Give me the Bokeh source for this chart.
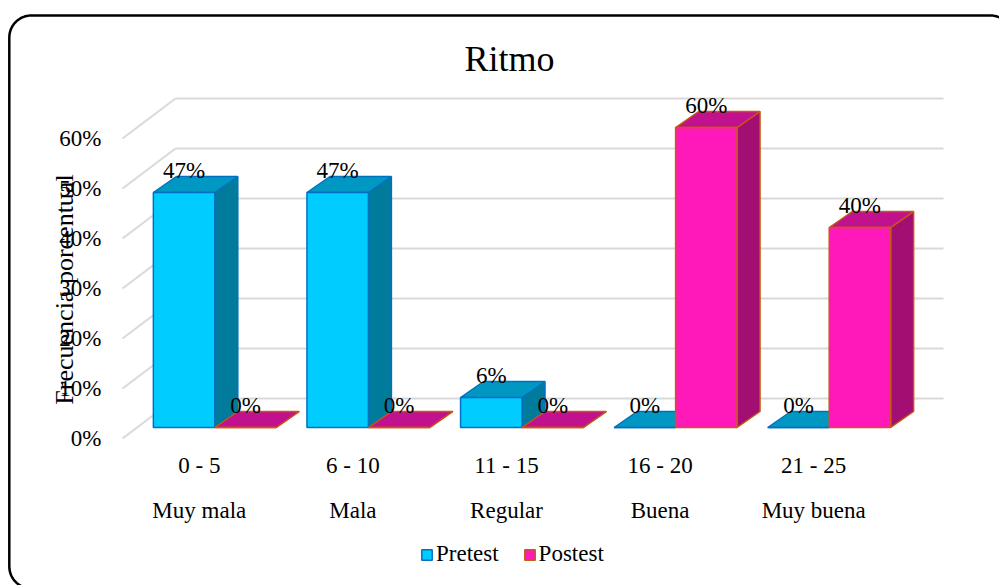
import numpy as np
from bokeh.plotting import figure
from bokeh.models import (Range1d, LinearAxis, FixedTicker, PrintfTickFormatter,
                          Label, Legend, LegendItem)
from bokeh.embed import file_html
from bokeh.resources import INLINE
from bokeh.core.properties import value

# ---------------- data ----------------
chart_title = "Ritmo"
y_title = "Frecuencia porcentual"
ranges = ["0 - 5", "6 - 10", "11 - 15", "16 - 20", "21 - 25"]
levels = ["Muy mala", "Mala", "Regular", "Buena", "Muy buena"]
pretest = [47, 47, 6, 0, 0]
postest = [0, 0, 0, 60, 40]
y_ticks = [0, 10, 20, 30, 40, 50, 60]
series_names = ["Pretest", "Postest"]

# ---------------- geometry / style ----------------
W, H = 999, 585
X0_PX, UX = 122.0, 153.6     # px of category origin, px per category
Y0_PX, UY = 438.0, 5.0       # px of 0 % (front plane), px per percent
FONT = "Liberation Serif"
FS = "23px"

def X(px):
    return (px - X0_PX) / UX

def Y(py):
    return (Y0_PX - py) / UY

FLOOR_DX, FLOOR_DY = 53 / UX, 40 / UY      # full depth of the floor
BAR_OX, BAR_OY = 15.5 / UX, 11 / UY        # bar front-face offset from front plane
BAR_DX, BAR_DY = 23 / UX, 16 / UY          # bar depth
BAR_W = 0.4
LABEL_LIFT = 6 / UY

colors = {
    "Pretest": dict(front="#00CCFF", top="#0098C2", side="#007B9C", line="#0070C0"),
    "Postest": dict(front="#FF19BA", top="#C2118E", side="#A30E72", line="#C55A11"),
}

p = figure(width=W, height=H, output_backend="svg", toolbar_location=None,
           x_range=Range1d(X(0), X(W)), y_range=Range1d(Y(H), Y(0)),
           x_axis_location=None, y_axis_location=None,
           min_border=0, outline_line_color=None)
p.grid.grid_line_color = None
p.background_fill_color = "white"
p.border_fill_color = "white"

# ---------------- chart border (rounded) ----------------
def rounded_rect(l, t, r, b, rad, n=16):
    pts = []
    corners = [(r - rad, t + rad, -90, 0), (r - rad, b - rad, 0, 90),
               (l + rad, b - rad, 90, 180), (l + rad, t + rad, 180, 270)]
    for cx, cy, a0, a1 in corners:
        for a in np.linspace(np.radians(a0), np.radians(a1), n):
            pts.append((cx + rad * np.cos(a), cy + rad * np.sin(a)))
    pts.append(pts[0])
    return [X(q[0]) for q in pts], [Y(q[1]) for q in pts]

bx, by = rounded_rect(8.8, 15, 1012, 588, 22)
p.line(bx, by, line_color="black", line_width=2.5)

# ---------------- walls / gridlines ----------------
n_cat = len(ranges)
back_xs = [[FLOOR_DX, n_cat + FLOOR_DX] for t in y_ticks]
back_ys = [[t + FLOOR_DY, t + FLOOR_DY] for t in y_ticks]
side_xs = [[0, FLOOR_DX] for t in y_ticks]
side_ys = [[t, t + FLOOR_DY] for t in y_ticks]
p.multi_line(back_xs + side_xs, back_ys + side_ys, line_color="#D9D9D9", line_width=2)

# ---------------- 3D bars ----------------
front_renderers = {}
label_x, label_y, label_t = [], [], []
for k, (name, vals) in enumerate(zip(series_names, [pretest, postest])):
    c = colors[name]
    left = [i + 0.1 + k * BAR_W + BAR_OX for i in range(n_cat)]
    right = [l + BAR_W for l in left]
    bottom = [BAR_OY] * n_cat
    top = [BAR_OY + v for v in vals]
    side_x = [[r, r + BAR_DX, r + BAR_DX, r] for r in right]
    side_y = [[b, b + BAR_DY, t + BAR_DY, t] for b, t in zip(bottom, top)]
    top_x = [[l, r, r + BAR_DX, l + BAR_DX] for l, r in zip(left, right)]
    top_y = [[t, t, t + BAR_DY, t + BAR_DY] for t in top]
    p.patches(side_x, side_y, fill_color=c["side"], line_color=c["line"], line_width=1.5)
    p.patches(top_x, top_y, fill_color=c["top"], line_color=c["line"], line_width=1.5)
    front_renderers[name] = p.quad(left=left, right=right, bottom=bottom, top=top,
                                   fill_color=c["front"], line_color=c["line"], line_width=1.5)
    for l, r, t, v in zip(left, right, top, vals):
        label_x.append((l + r) / 2)
        label_y.append(t + BAR_DY + LABEL_LIFT)
        label_t.append(f"{v}%")

p.text(x=label_x, y=label_y, text=label_t, text_font=value(FONT), text_font_size=FS,
       text_align="center", text_baseline="middle", text_color="#000000")

# ---------------- axes ----------------
yaxis = LinearAxis(fixed_location=X(105), ticker=FixedTicker(ticks=y_ticks),
                   formatter=PrintfTickFormatter(format="%d%%"))
centers = [i + 0.5 for i in range(n_cat)]
xaxis1 = LinearAxis(fixed_location=Y(448), ticker=FixedTicker(ticks=centers),
                    major_label_overrides={c: r for c, r in zip(centers, ranges)})
xaxis2 = LinearAxis(fixed_location=Y(493), ticker=FixedTicker(ticks=centers),
                    major_label_overrides={c: r for c, r in zip(centers, levels)})
for ax in (yaxis, xaxis1, xaxis2):
    ax.axis_line_color = None
    ax.major_tick_line_color = None
    ax.minor_tick_line_color = None
    ax.major_tick_in = 0
    ax.major_tick_out = 0
    ax.major_label_text_font = FONT
    ax.major_label_text_font_size = FS
    ax.major_label_text_color = "#000000"
    ax.major_label_standoff = 4
p.add_layout(yaxis, "left")
p.add_layout(xaxis1, "below")
p.add_layout(xaxis2, "below")

# ---------------- titles ----------------
p.add_layout(Label(x=X(509), y=Y(58), text=chart_title, text_font=FONT, text_font_size="36px",
                   text_align="center", text_baseline="middle", text_color="#000000"))
p.add_layout(Label(x=X(64), y=Y(289), text=y_title, angle=np.pi / 2, text_font=FONT,
                   text_font_size="26px", text_align="center", text_baseline="middle",
                   text_color="#000000"))

# ---------------- legend ----------------
legend = Legend(items=[LegendItem(label=n, renderers=[front_renderers[n]]) for n in series_names],
                orientation="horizontal", location=(420, 18),
                glyph_width=13, glyph_height=13, label_standoff=3, spacing=24,
                padding=0, margin=0, border_line_color=None, background_fill_alpha=0,
                label_text_font=FONT, label_text_font_size=FS, label_text_color="#000000")
p.add_layout(legend, "center")

open("out.html", "w").write(file_html(p, INLINE))
